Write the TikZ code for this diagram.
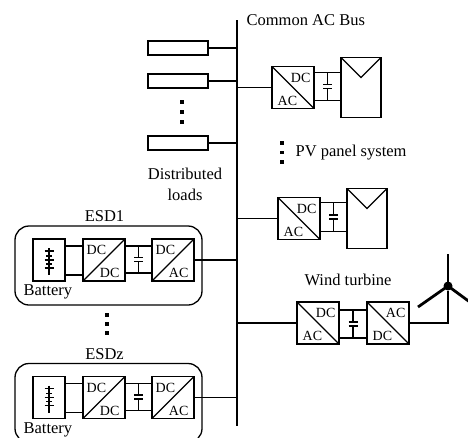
\documentclass[tikz,border=0pt]{standalone}
\usepackage{fontspec}
\setmainfont{Liberation Serif}
\usetikzlibrary{positioning,calc}
\newcommand{\CapSize}{4.5}
\newcommand{\LinkCap}[4]{%
	\coordinate (tw) at ([yshift=-#3pt]#1.north east);
	\coordinate (bw) at ([yshift=#4pt]#1.south east);
	\draw (tw) -- (tw -| #2.west);
	\draw (bw) -- (bw -| #2.west);
	\coordinate (ct) at ($(tw)!0.5!(tw -| #2.west)$);
	\coordinate (cb) at ($(bw)!0.5!(bw -| #2.west)$);
	\coordinate (cm) at ($(ct)!0.5!(cb)$);
	\draw (ct) -- ([yshift=2pt]cm);
	\draw (cb) -- ([yshift=-2pt]cm);
	\draw ([xshift=-\CapSize pt,yshift=2pt]cm) -- ([xshift=\CapSize pt,yshift=2pt]cm);
	\draw ([xshift=-\CapSize pt,yshift=-2pt]cm) -- ([xshift=\CapSize pt,yshift=-2pt]cm);
}
\tikzset{
	every path/.style={line width=1.3pt},
	txt/.style={font=\fontsize{16.5}{18}\selectfont, inner sep=0pt},
	convtext/.style={font=\fontsize{14}{15}\selectfont, inner sep=2.5pt},
	box/.style={draw, rectangle, inner sep=0pt, outer sep=0pt},
	convup/.style 2 args={box, minimum size=42pt,
		path picture={\draw (path picture bounding box.south west) -- (path picture bounding box.north east);},
		label={[convtext, anchor=north west, yshift=-3.5pt, xshift=0.5pt]north west:#1},
		label={[convtext, anchor=south east, xshift=-2.5pt]south east:#2}},
	convdown/.style 2 args={box, minimum size=42pt,
		path picture={\draw (path picture bounding box.north west) -- (path picture bounding box.south east);},
		label={[convtext, anchor=north east, yshift=-3.5pt, xshift=-0.5pt]north east:#1},
		label={[convtext, anchor=south west, xshift=2.5pt]south west:#2}},
	loadbox/.style={box, minimum width=60pt, minimum height=14pt},
	panelbox/.style={box, minimum width=40pt, minimum height=60pt},
	dotbox/.style={fill=black, rectangle, inner sep=0pt, minimum size=3.6pt},
	blade/.style={line width=2.8pt},
}

\begin{document}
\begin{tikzpicture}[x=1pt, y=-1pt]
	\useasboundingbox (0,0) rectangle (468,437);

	% bus
	\coordinate (bustop) at (237,20);
	\coordinate (busend) at (237,426);
	\draw (bustop) -- (busend);
	\node[txt, anchor=west] (bustxt) at (246,20) {Common AC Bus};

	% distributed loads
	\node[loadbox] (load1) at (178,48) {};
	\node[loadbox] (load2) at (178,81) {};
	\node[loadbox] (load3) at (178,143) {};
	\foreach \i in {1,2,3} {
		\draw (load\i.east) -- (load\i.east -| bustop);
	}
	\foreach \k in {0,1,2} {
		\node[dotbox] (ldot\k) at (182,102+10*\k) {};
	}
	\node[txt, align=center, below=17pt of load3, xshift=7pt] (loadtxt) {Distributed\\[3pt]loads};

	% PV panels
	\node[convdown={DC}{AC}] (pvconv1) at (293,87.5) {};
	\node[panelbox, right=27pt of pvconv1] (pvpanel1) {};
	\node[convdown={DC}{AC}] (pvconv2) at (299,218.5) {};
	\node[panelbox, right=27pt of pvconv2] (pvpanel2) {};
	\foreach \i/\t/\b in {1/6/8, 2/5/8} {
		\draw (pvconv\i.west) -- (pvconv\i.west -| bustop);
		\LinkCap{pvconv\i}{pvpanel\i}{\t}{\b}
		\draw (pvpanel\i.north west) -- ([yshift=-20pt]pvpanel\i.north) -- (pvpanel\i.north east);
	}
	\foreach \k in {0,1,2} {
		\node[dotbox] (pvdot\k) at (282,143+9.5*\k) {};
	}
	\node[txt, anchor=west] (pvtxt) at (295,153) {PV panel system};

	% wind turbine
	\node[convdown={DC}{AC}] (wconv1) at (318,323) {};
	\node[convdown={AC}{DC}, right=28pt of wconv1] (wconv2) {};
	\draw (wconv1.west) -- (wconv1.west -| bustop);
	\LinkCap{wconv1}{wconv2}{8}{6}
	\node[txt] (windtxt) at (348,280) {Wind turbine};
	\node[fill=black, circle, inner sep=0pt, minimum size=9pt] (hub) at (448,286) {};
	\coordinate (tip1) at (448,254);
	\coordinate (tip2) at (418,307);
	\coordinate (tip3) at (478,308);
	\draw (wconv2.east) -- (wconv2.east -| hub) -- (hub);
	\foreach \i in {1,2,3} {
		\draw[blade] (hub.center) -- (tip\i);
	}

	% energy storage devices
	\foreach \n/\dy in {1/0, z/137.5} {
		\node[box, minimum width=187pt, minimum height=79pt, rounded corners=14pt] (esd\n) at (108.5,265.5+\dy) {};
		\node[txt, above=3.5pt of esd\n, xshift=-4pt] (esdtxt\n) {ESD\n};
		\node[box, minimum width=32pt, minimum height=42pt] (bat\n) at (49,260+\dy) {};
		\node[convup={DC}{DC}, right=18pt of bat\n] (dcdc\n) {};
		\node[convup={DC}{AC}, right=27pt of dcdc\n] (dcac\n) {};
		\node[txt, anchor=west] (battxt\n) at (23,292+\dy) {Battery};
		\coordinate (bt\n) at ([yshift=-7pt]bat\n.north east);
		\coordinate (bb\n) at ([yshift=6pt]bat\n.south east);
		\draw (bt\n) -- (bt\n -| dcdc\n.west);
		\draw (bb\n) -- (bb\n -| dcdc\n.west);
		\LinkCap{dcdc\n}{dcac\n}{7}{8}
		\draw (dcac\n.east) -- (dcac\n.east -| bustop);
		% battery cells
		\coordinate (cell\n) at (49,248+\dy);
		\draw ($(cell\n)$) -- ($(cell\n)+(0,27)$);
		\foreach \y/\w in {3/4.5, 8/3, 12/4.5, 16/3, 20/4.5} {
			\draw ($(cell\n)+(-\w,\y)$) -- ($(cell\n)+(\w,\y)$);
		}
	}
	\foreach \k in {0,1,2} {
		\node[dotbox] (edot\k) at (107,315+9*\k) {};
	}
\end{tikzpicture}
\end{document}
